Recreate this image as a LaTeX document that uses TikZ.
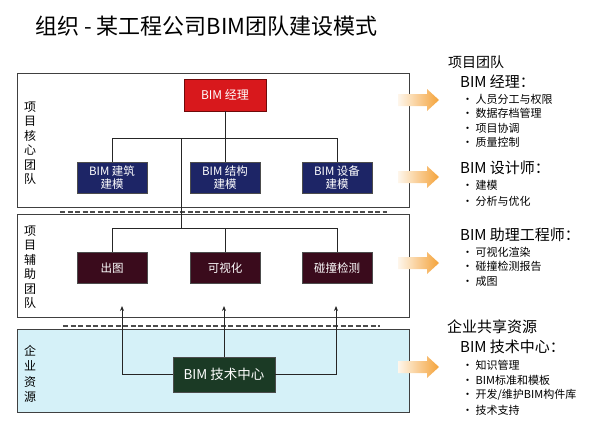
\documentclass[tikz,border=0pt]{standalone}
\usepackage{fontspec}
\setmainfont{Noto Sans CJK SC}
\usetikzlibrary{arrows.meta,positioning}

\definecolor{mgrred}{HTML}{D8181C}
\definecolor{mgrline}{HTML}{6E0A0A}
\definecolor{modblue}{HTML}{1D2566}
\definecolor{auxred}{HTML}{3A0B1C}
\definecolor{techgreen}{HTML}{1B3A25}
\definecolor{resbg}{HTML}{D5F1F8}
\definecolor{arrowor}{HTML}{F4A33A}

\tikzset{
  panel/.style={draw=black!75,line width=0.9pt,minimum width=392,minimum height=#1,inner sep=0},
  role/.style={draw=black!70,line width=0.8pt,minimum width=70,minimum height=31,
    text=white,align=center,inner sep=1,font=\fontsize{11.5}{13.5}\selectfont},
  link/.style={black!85,line width=0.9pt},
  uplink/.style={link,-{Stealth[length=5pt,width=4pt]}},
  sepline/.style={black!70,line width=1.3pt,dash pattern=on 5pt off 2.5pt},
  sidelbl/.style={align=center,inner sep=0,font=\fontsize{12}{14.5}\selectfont},
  outarrow/.style={left color=arrowor!10,right color=arrowor},
  grouphd/.style={anchor=west,inner sep=0,font=\fontsize{14}{16}\selectfont},
  rolehd/.style={anchor=west,inner sep=0,font=\fontsize{15}{17}\selectfont},
  bul/.style={anchor=west,inner sep=0,font=\fontsize{11}{13}\selectfont}
}

\begin{document}
\begin{tikzpicture}[x=1pt,y=-1pt]
\useasboundingbox (0,0) rectangle (589,421);

% Title
\node[anchor=west,inner sep=0,font=\fontsize{22}{25}\selectfont] (title) at (35,26) {组织 - 某工程公司BIM团队建设模式};

% Three layers
\node[panel=83,fill=resbg] (resPanel) at (213,370.5) {};
\node[panel=134] (corePanel) at (213,140) {};
\node[panel=103] (auxPanel) at (213,266) {};
\draw[sepline] (60,212) -- (387,212);
\draw[sepline] (63,326) -- (380,326);

\node[sidelbl] (coreLbl) at (30,143) {项\\目\\核\\心\\团\\队};
\node[sidelbl] (auxLbl) at (30,267) {项\\目\\辅\\助\\团\\队};
\node[sidelbl,font=\fontsize{12}{15.3}\selectfont] (resLbl) at (30,374) {企\\业\\资\\源};

% Core team
\node[role,fill=mgrred,draw=mgrline,minimum width=82,minimum height=32,font=\fontsize{12}{14}\selectfont] (mgr) at (225,95) {BIM 经理};
\node[role,fill=modblue] (arch) at (112,177.5) {BIM 建筑\\建模};
\node[role,fill=modblue] (struc) at (225,177.5) {BIM 结构\\建模};
\node[role,fill=modblue] (mep) at (337,177.5) {BIM 设备\\建模};

% Assisting team
\node[role,fill=auxred] (draft) at (112,268) {出图};
\node[role,fill=auxred] (visual) at (225,268) {可视化};
\node[role,fill=auxred] (clash) at (337,268) {碰撞检测};

% Enterprise resource
\node[role,fill=techgreen,minimum width=102,minimum height=35,font=\fontsize{13.5}{15}\selectfont] (tech) at (224,374.5) {BIM 技术中心};

% Tree links
\coordinate (coreBar) at (0,138);
\coordinate (auxBar) at (0,228);
\coordinate (trunk) at (181,0);
\draw[link] (mgr.south) -- (mgr.south |- coreBar);
\draw[link] (arch.north) -- (arch.north |- coreBar) -- (mep.north |- coreBar) -- (mep.north);
\draw[link] (struc.north) -- (struc.north |- coreBar);
\draw[link] (trunk |- coreBar) -- (trunk |- auxBar);
\draw[link] (draft.north) -- (draft.north |- auxBar) -- (clash.north |- auxBar) -- (clash.north);
\draw[link] (visual.north) -- (visual.north |- auxBar);

% Support arrows
\coordinate (upL) at (122,306);
\coordinate (upR) at (336,306);
\draw[uplink] (tech.west) -| (upL);
\draw[uplink] (tech.north) -- (tech.north |- upL);
\draw[uplink] (tech.east) -| (upR);

% Orange arrows
\foreach \y in {100,177,263,367}
  \shade[outarrow] (398,\y-6) -- (427,\y-6) -- (427,\y-11) -- (439,\y)
    -- (427,\y+11) -- (427,\y+6) -- (398,\y+6) -- cycle;

% Role descriptions
\node[grouphd] (teamHd) at (448,62) {项目团队};
\node[rolehd] (mgrHd) at (460,82) {BIM 经理：};
\foreach \t [count=\i] in {人员分工与权限,数据存档管理,项目协调,质量控制}
  \node[bul] (mgrItem\i) at (462,99+14.5*\i-14.5) {• \t};

\node[rolehd] (desHd) at (460,168) {BIM 设计师：};
\foreach \t [count=\i] in {建模,分析与优化}
  \node[bul] (desItem\i) at (462,185+16*\i-16) {• \t};

\node[rolehd] (astHd) at (460,235) {BIM 助理工程师：};
\foreach \t [count=\i] in {可视化渲染,碰撞检测报告,成图}
  \node[bul] (astItem\i) at (462,252+14.5*\i-14.5) {• \t};

\node[grouphd,font=\fontsize{15}{17}\selectfont] (resHd) at (447,327) {企业共享资源};
\node[rolehd] (techHd) at (460,347) {BIM 技术中心：};
\foreach \t [count=\i] in {知识管理,BIM标准和模板,开发/维护BIM构件库,技术支持}
  \node[bul] (techItem\i) at (462,365+15*\i-15) {• \t};
\end{tikzpicture}
\end{document}
